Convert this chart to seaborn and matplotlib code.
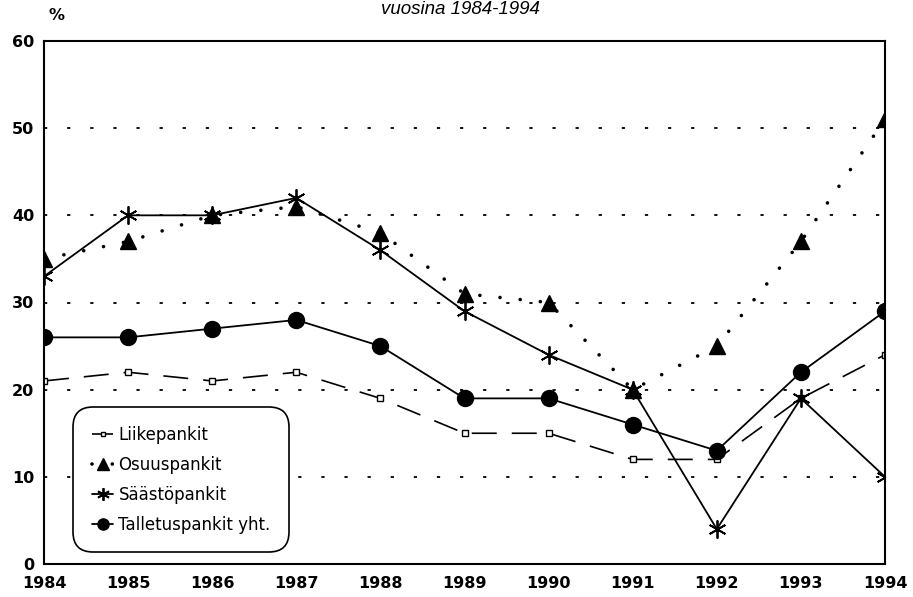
import matplotlib
matplotlib.use("Agg")
import matplotlib.pyplot as plt
import seaborn as sns
import pandas as pd

years = [1984, 1985, 1986, 1987, 1988, 1989, 1990, 1991, 1992, 1993, 1994]
liikepankit = [21, 22, 21, 22, 19, 15, 15, 12, 12, 19, 24]
osuuspankit = [35, 37, 40, 41, 38, 31, 30, 20, 25, 37, 51]
saastopankit = [33, 40, 40, 42, 36, 29, 24, 20, 4, 19, 10]
talletuspankit = [26, 26, 27, 28, 25, 19, 19, 16, 13, 22, 29]
labels = ["Liikepankit", "Osuuspankit", "Säästöpankit", "Talletuspankit yht."]
yticks = [0, 10, 20, 30, 40, 50, 60]

sns.set_style("white")
plt.rcParams["font.family"] = ["Liberation Sans", "DejaVu Sans"]
plt.rcParams["text.color"] = "black"
plt.rcParams["xtick.color"] = "black"
plt.rcParams["ytick.color"] = "black"
plt.rcParams["axes.labelcolor"] = "black"

fig = plt.figure(figsize=(9.13, 5.97), dpi=100)
ax = fig.add_axes([44 / 913, 1 - 564 / 597, (885 - 44) / 913, (564 - 41) / 597])

df = pd.DataFrame({"year": years, "L": liikepankit, "O": osuuspankit,
                   "S": saastopankit, "T": talletuspankit})

sns.lineplot(data=df, x="year", y="L", ax=ax, estimator=None, sort=False,
             color="black", linewidth=1.2, linestyle=(0, (15, 9)),
             marker="s", markersize=4, markerfacecolor="white",
             markeredgecolor="black", markeredgewidth=1.0, label=labels[0])
sns.lineplot(data=df, x="year", y="O", ax=ax, estimator=None, sort=False,
             color="black", linewidth=2.6, linestyle=(0, (0.01, 5.6)),
             dash_capstyle="round",
             marker="^", markersize=11.5, markerfacecolor="black",
             markeredgecolor="black", markeredgewidth=1.0, label=labels[1])
sns.lineplot(data=df, x="year", y="S", ax=ax, estimator=None, sort=False,
             color="black", linewidth=1.3, linestyle="-",
             marker=(6, 2, 0), markersize=13, markeredgecolor="black",
             markeredgewidth=1.3, label=labels[2])
sns.lineplot(data=df, x="year", y="T", ax=ax, estimator=None, sort=False,
             color="black", linewidth=1.3, linestyle="-",
             marker="o", markersize=11.5, markerfacecolor="black",
             markeredgecolor="black", markeredgewidth=1.0, label=labels[3])

ax.set_xlim(1984, 1994)
ax.set_ylim(0, 60)
ax.set_xticks(years)
ax.set_xticklabels([str(y) for y in years])
ax.set_yticks(yticks)
ax.set_yticklabels([str(v) for v in yticks])
ax.set_xlabel("")
ax.set_ylabel("")

for t in ax.get_xticklabels() + ax.get_yticklabels():
    t.set_family(["DejaVu Sans"])
    t.set_fontweight("bold")
    t.set_fontsize(11.5)
    t.set_color("black")
ax.tick_params(axis="both", length=0)
ax.tick_params(axis="x", pad=9)
ax.tick_params(axis="y", pad=7)

for sp in ax.spines.values():
    sp.set_visible(True)
    sp.set_color("black")
    sp.set_linewidth(1.5)

for v in [10, 20, 30, 40, 50]:
    ax.axhline(v, color="black", linewidth=1.3, linestyle=(0, (1.8, 11)),
               zorder=0.5)

leg = ax.legend(loc="lower left", bbox_to_anchor=(0.035, 0.023),
                borderaxespad=0, frameon=True, fancybox=True,
                prop={"family": "DejaVu Sans", "size": 12},
                handlelength=1.3, handletextpad=0.3, labelspacing=0.72,
                borderpad=1.1, markerscale=0.7)
for t in leg.get_texts():
    t.set_color("black")
frame = leg.get_frame()
frame.set_edgecolor("black")
frame.set_linewidth(1.2)
frame.set_facecolor("white")
frame.set_alpha(1)
frame.set_boxstyle("round,pad=0,rounding_size=1.2")

fig.text(56 / 913, 1 - 15 / 597, "%", ha="center", va="center",
         fontsize=11.5, fontweight="bold", family=["DejaVu Sans"],
         color="black")
fig.text(460 / 913, 1 - 14 / 597, "vuosina 1984-1994", ha="center",
         va="baseline", fontsize=13.5, fontstyle="italic", color="black")

fig.savefig("out.png", dpi=100)
